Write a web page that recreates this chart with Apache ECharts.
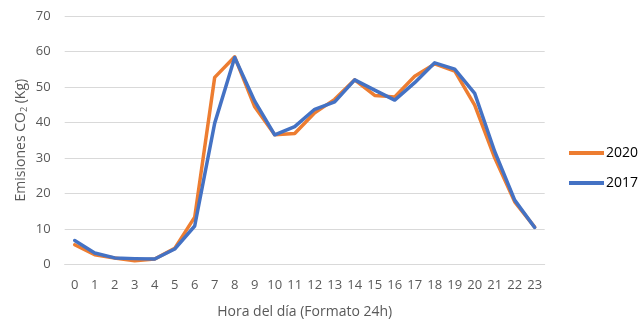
<!DOCTYPE html>
<html>
<head>
<meta charset="utf-8">
<script src="https://cdn.jsdelivr.net/npm/echarts@6/dist/echarts.min.js"></script>
<style>
  html, body { margin: 0; padding: 0; background: #fff; }
  #chart { width: 643px; height: 320px; }
</style>
</head>
<body>
<div id="chart"></div>
<script>
// Hourly CO2 emissions, 2020 vs 2017
const hours = ['0','1','2','3','4','5','6','7','8','9','10','11','12','13','14','15','16','17','18','19','20','21','22','23'];
const yTicks = [0, 10, 20, 30, 40, 50, 60, 70];
const values2020 = [5.5, 2.7, 1.8, 1.0, 1.5, 4.5, 13.3, 52.7, 58.5, 44.4, 36.5, 36.9, 42.7, 46.5, 52.0, 47.6, 47.2, 53.0, 56.5, 54.5, 44.9, 30.0, 17.6, 10.5];
const values2017 = [6.7, 3.2, 1.8, 1.6, 1.5, 4.3, 10.8, 39.8, 58.3, 46.0, 36.5, 38.8, 43.7, 45.8, 52.0, 49.1, 46.3, 51.2, 56.8, 55.0, 48.2, 31.8, 18.1, 10.4];

const textColor = '#595959';
const font = '"Open Sans", "Liberation Sans", sans-serif';

const chart = echarts.init(document.getElementById('chart'), null, { renderer: 'canvas' });
chart.setOption({
  animation: false,
  backgroundColor: '#ffffff',
  grid: { left: 64.7, right: 98.3, top: 16, bottom: 55.7, outerBoundsMode: 'none', containLabel: false },
  legend: {
    orient: 'vertical',
    left: 569,
    top: 146,
    padding: 0,
    icon: 'rect',
    itemWidth: 35,
    itemHeight: 4,
    itemGap: 16,
    textStyle: { color: '#000', fontSize: 14, fontFamily: font, padding: [0, 0, 0, -3] },
    data: ['2020', '2017']
  },
  xAxis: {
    type: 'category',
    data: hours,
    boundaryGap: true,
    axisLine: { lineStyle: { color: '#d9d9d9', width: 1 } },
    axisTick: { show: false },
    axisLabel: { color: textColor, fontSize: 13, fontFamily: font, margin: 14, interval: 0 },
    name: 'Hora del día (Formato 24h)',
    nameLocation: 'middle',
    nameGap: 41,
    nameMoveOverlap: false,
    nameTextStyle: { color: textColor, fontSize: 14, fontFamily: font }
  },
  yAxis: {
    type: 'value',
    min: yTicks[0],
    max: yTicks[yTicks.length - 1],
    interval: 10,
    axisLine: { show: false },
    axisTick: { show: false },
    splitLine: { lineStyle: { color: '#d9d9d9', width: 1 } },
    axisLabel: { color: textColor, fontSize: 13, fontFamily: font, margin: 14 },
    name: 'Emisiones CO{sub|2} (Kg)',
    nameLocation: 'middle',
    nameRotate: 90,
    nameGap: 36,
    nameMoveOverlap: false,
    nameTextStyle: {
      color: textColor, fontSize: 14, fontFamily: font,
      rich: { sub: { fontSize: 9, color: textColor, fontFamily: font, verticalAlign: 'bottom', padding: [6, 0, 0, 0] } }
    }
  },
  series: [
    {
      name: '2020', type: 'line', data: values2020,
      symbol: 'none', smooth: false,
      lineStyle: { color: '#ED7D31', width: 3.5, join: 'round', cap: 'round' },
      itemStyle: { color: '#ED7D31' }
    },
    {
      name: '2017', type: 'line', data: values2017,
      symbol: 'none', smooth: false,
      lineStyle: { color: '#4472C4', width: 3.5, join: 'round', cap: 'round' },
      itemStyle: { color: '#4472C4' }
    }
  ]
});
</script>
</body>
</html>
